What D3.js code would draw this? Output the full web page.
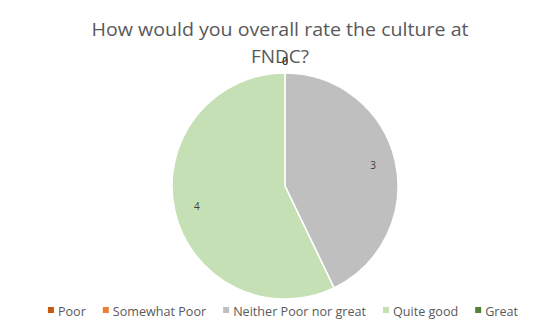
<!DOCTYPE html>
<html>
<head>
<meta charset="utf-8">
<script src="https://cdn.jsdelivr.net/npm/d3@7"></script>
<style>
  body { margin: 0; background: #fff; }
  text { font-family: "Open Sans", "Liberation Sans", sans-serif; }
</style>
</head>
<body>
<div id="chart"></div>
<script>
const categories = ["Poor", "Somewhat Poor", "Neither Poor nor great", "Quite good", "Great"];
const values = [0, 0, 3, 4, 0];
const colors = ["#C55A11", "#ED7D31", "#BFBFBF", "#C5E0B4", "#548235"];
const titleLines = ["How would you overall rate the culture at", "FNDC?"];

const width = 544;
const height = 334;
const cx = 285, cy = 186, radius = 113;

const data = categories.map((c, i) => ({category: c, value: values[i]}));

const svg = d3.select("#chart")
    .append("svg")
    .attr("width", width)
    .attr("height", height);

// title
svg.append("g")
    .selectAll("text")
    .data(titleLines)
    .join("text")
    .attr("x", 280)
    .attr("y", (d, i) => 36 + i * 27)
    .attr("text-anchor", "middle")
    .style("font-size", "19px")
    .style("fill", "#595959")
    .text(d => d)
    .each(function(d, i) {
        if (i == 0) d3.select(this).attr("textLength", 377).attr("lengthAdjust", "spacingAndGlyphs");
    });

const colorScale = d3.scaleOrdinal()
    .domain(categories)
    .range(colors);

const pie = d3.pie()
    .sort(null)
    .value(d => d.value);

const arcs = pie(data);

const arc = d3.arc()
    .innerRadius(0)
    .outerRadius(radius);

const g = svg.append("g")
    .attr("transform", `translate(${cx},${cy})`);

g.selectAll("path")
    .data(arcs.filter(d => d.data.value > 0))
    .join("path")
    .attr("d", arc)
    .style("fill", d => colorScale(d.data.category))
    .style("stroke", "#fff")
    .style("stroke-width", 1.5);

// data labels: inside for real slices, outside for empty ones
const inner = d3.arc().innerRadius(radius * 0.8).outerRadius(radius * 0.8);
const outer = d3.arc().innerRadius(radius + 12).outerRadius(radius + 12);

g.selectAll("text")
    .data(arcs)
    .join("text")
    .attr("transform", d => `translate(${(d.data.value > 0 ? inner : outer).centroid(d)})`)
    .attr("text-anchor", "middle")
    .attr("dy", "0.35em")
    .style("font-size", "10px")
    .style("fill", "#404040")
    .text(d => d.value);

// legend
const legend = svg.append("g");
const items = legend.selectAll("g")
    .data(categories)
    .join("g");

items.append("rect")
    .attr("width", 6)
    .attr("height", 6)
    .attr("y", -5)
    .style("fill", d => colorScale(d));

items.append("text")
    .attr("x", 10)
    .attr("y", 0)
    .attr("dy", "0.35em")
    .style("font-size", "12.6px")
    .style("fill", "#595959")
    .text(d => d);

let xPos = 0;
items.each(function() {
    const w = 10 + d3.select(this).select("text").node().getComputedTextLength();
    d3.select(this).attr("transform", `translate(${xPos},312)`);
    xPos += w + 17;
});
const total = xPos - 17;
legend.attr("transform", `translate(${283 - total / 2},0)`);
</script>
</body>
</html>
